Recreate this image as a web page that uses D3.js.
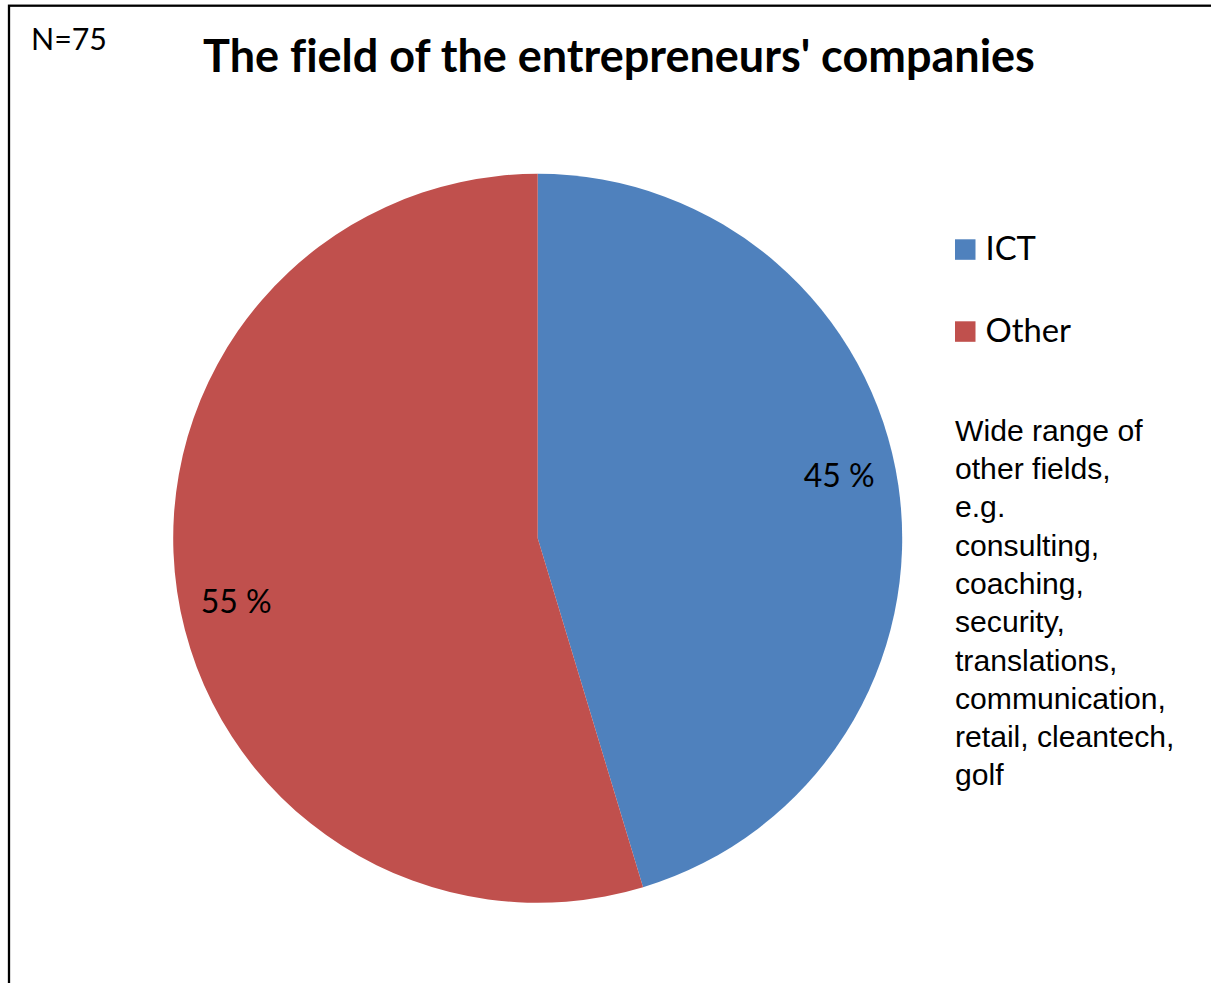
<!DOCTYPE html>
<html>
<head>
<meta charset="utf-8">
<script src="https://cdn.jsdelivr.net/npm/d3@7/dist/d3.min.js"></script>
<style>
  html, body { margin: 0; padding: 0; background: #fff; overflow: hidden; }
  svg { display: block; }
  text { font-variant-ligatures: none; font-feature-settings: "liga" 0; }
</style>
</head>
<body>
<svg id="chart" width="1211" height="983"></svg>
<script>
// ---- data ----
const categories = ["ICT", "Other"];
const counts = [34, 41];
const sampleLabel = "N=75";
const titleText = "The field of the entrepreneurs' companies";
const noteLines = [
  "Wide range of",
  "other fields,",
  "e.g.",
  "consulting,",
  "coaching,",
  "security,",
  "translations,",
  "communication,",
  "retail, cleantech,",
  "golf"
];

// ---- styles ----
const sliceColors = ["#4F81BD", "#C0504D"];
const W = 1211, H = 983;
const cx = 537.7, cy = 538.3, R = 364.5;
const calibriLike = "Lato, 'Open Sans', sans-serif";
const arialLike = "'Liberation Sans', Arial, sans-serif";

const svg = d3.select("#chart");

function fitWidth(sel, target) {
  sel.attr("font-size", 100);
  const w = sel.node().getComputedTextLength();
  const fs = 100 * target / w;
  sel.attr("font-size", fs);
  return fs;
}

// background + border
svg.append("rect").attr("x", 0).attr("y", 0).attr("width", W).attr("height", H).attr("fill", "#fff");
svg.append("rect")
  .attr("x", 9).attr("y", 5.7)
  .attr("width", 1300).attr("height", 1100)
  .attr("fill", "none").attr("stroke", "#000").attr("stroke-width", 2.3);

// N label
const nText = svg.append("text")
  .attr("x", 31).attr("y", 50)
  .attr("font-family", calibriLike)
  .attr("fill", "#000")
  .text(sampleLabel);
fitWidth(nText, 76);

// title
const title = svg.append("text")
  .attr("x", 619).attr("y", 72)
  .attr("text-anchor", "middle")
  .attr("font-family", calibriLike)
  .attr("font-weight", 700)
  .attr("fill", "#000")
  .text(titleText);
fitWidth(title, 832);

// pie
const total = d3.sum(counts);
const pie = d3.pie().sort(null).value(d => d);
const arcs = pie(counts);
const arc = d3.arc().innerRadius(0).outerRadius(R);

const g = svg.append("g").attr("transform", `translate(${cx},${cy})`);
g.selectAll("path.slice")
  .data(arcs)
  .join("path")
  .attr("class", "slice")
  .attr("d", arc)
  .attr("fill", (d, i) => sliceColors[i]);

// percentage labels
const labelR = 0.845 * R;
const labelShift = -3.4 * Math.PI / 180;
const pctLabels = g.selectAll("text.pct")
  .data(arcs)
  .join("text")
  .attr("class", "pct")
  .attr("font-family", calibriLike)
  .attr("fill", "#000")
  .attr("text-anchor", "middle")
  .text(d => Math.round(d.value / total * 100) + " %");
const pctSize = fitWidth(d3.select(pctLabels.nodes()[0]), 71);
pctLabels.attr("font-size", pctSize)
  .attr("x", d => {
    const a = (d.startAngle + d.endAngle) / 2 + labelShift;
    return labelR * Math.sin(a);
  })
  .attr("y", d => {
    const a = (d.startAngle + d.endAngle) / 2 + labelShift;
    return -labelR * Math.cos(a);
  })
  .attr("dy", "0.38em");

// legend
const legend = svg.append("g").attr("transform", "translate(955,239.3)");
const items = legend.selectAll("g.item")
  .data(categories)
  .join("g")
  .attr("class", "item")
  .attr("transform", (d, i) => `translate(0,${i * 82})`);
items.append("rect")
  .attr("width", 20.5).attr("height", 20.5)
  .attr("fill", (d, i) => sliceColors[i]);
const legTexts = items.append("text")
  .attr("x", 30.5).attr("y", 20.7)
  .attr("font-family", calibriLike)
  .attr("fill", "#000")
  .text(d => d);
const legSize = fitWidth(d3.select(legTexts.nodes()[1]), 85.5);
legTexts.attr("font-size", legSize);

// note text
const note = svg.append("text")
  .attr("font-family", arialLike)
  .attr("fill", "#000");
note.selectAll("tspan")
  .data(noteLines)
  .join("tspan")
  .attr("x", 955)
  .attr("y", (d, i) => 440.7 + i * 38.3)
  .text(d => d);
// size from the widest line
const probe = svg.append("text").attr("font-family", arialLike).text(noteLines[7]);
const noteSize = fitWidth(probe, 211);
probe.remove();
note.attr("font-size", noteSize);
</script>
</body>
</html>
